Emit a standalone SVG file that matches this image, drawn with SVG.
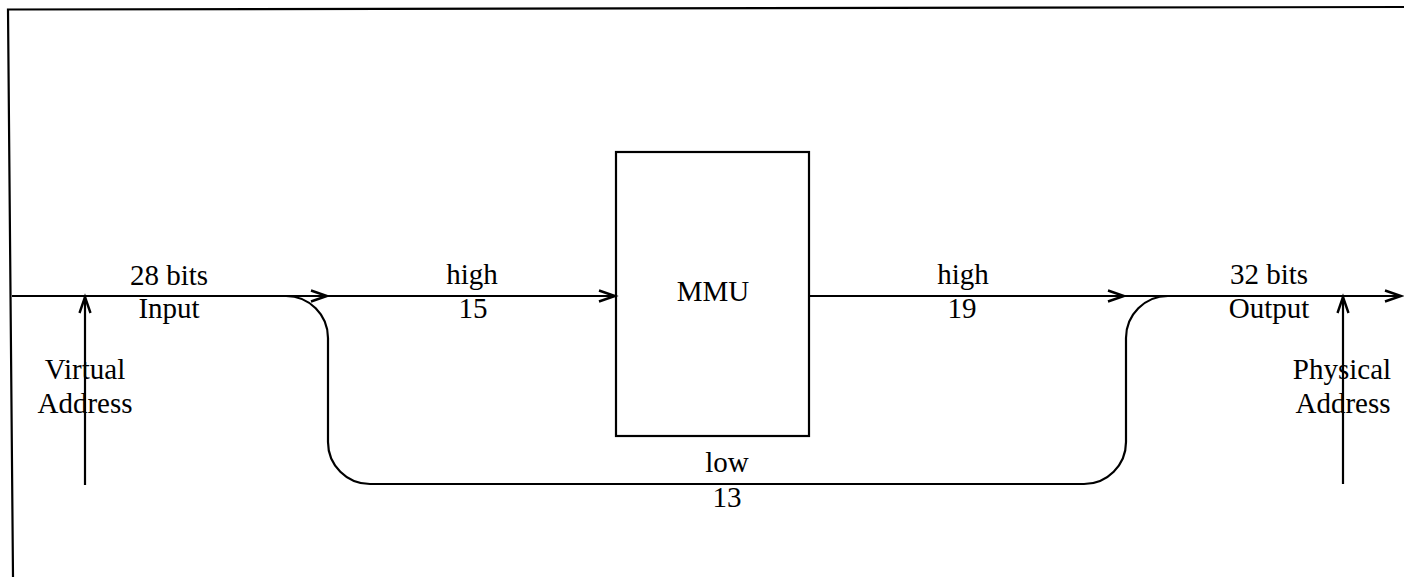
<svg xmlns="http://www.w3.org/2000/svg" width="1404" height="577" viewBox="0 0 1404 577">
<style>
.ln{stroke:#000;stroke-width:2.2;fill:none}
.t{font-family:"Liberation Serif","Times New Roman",serif;font-size:29px;fill:#000;text-anchor:middle}
</style>
<defs>
<marker id="ah" markerUnits="userSpaceOnUse" markerWidth="24" markerHeight="16" refX="18" refY="8" orient="auto" viewBox="0 0 24 16">
<path d="M2,2.5 L18,8 L2,13.5" stroke="#000" stroke-width="2.4" fill="none"/>
</marker>
</defs>
<rect width="1404" height="577" fill="#fff"/>
<polyline id="frame" class="ln" points="1404,7 8,9.5 13,577" stroke-width="2.6"/>
<g id="mmu">
<rect class="ln" x="616" y="152" width="193" height="284"/>
<text class="t" x="713" y="301">MMU</text>
</g>
<g id="input-label">
<text class="t" x="169" y="285">28 bits</text>
<text class="t" x="169" y="318">Input</text>
</g>
<g id="virtual-address">
<text class="t" x="85" y="379">Virtual</text>
<text class="t" x="85" y="413">Address</text>
</g>
<g id="output-label">
<text class="t" x="1269" y="284">32 bits</text>
<text class="t" x="1269" y="318">Output</text>
</g>
<g id="physical-address">
<text class="t" x="1342" y="379">Physical</text>
<text class="t" x="1343" y="413">Address</text>
</g>
<g id="connectors">
<line class="ln" x1="12" y1="296" x2="327" y2="296" marker-end="url(#ah)"/>
<line class="ln" x1="327" y1="296" x2="615" y2="296" marker-end="url(#ah)"/>
<line class="ln" x1="809" y1="296" x2="1124" y2="296" marker-end="url(#ah)"/>
<line class="ln" x1="1124" y1="296" x2="1401" y2="296" marker-end="url(#ah)"/>
<path class="ln" d="M286,296 A42,42 0 0 1 328,338 L328,442 A42,42 0 0 0 370,484 L1084,484 A42,42 0 0 0 1126,442 L1126,338 A42,42 0 0 1 1168,296"/>
<line class="ln" x1="85" y1="485" x2="85" y2="297" marker-end="url(#ah)"/>
<line class="ln" x1="1343" y1="484" x2="1343" y2="297" marker-end="url(#ah)"/>
<text class="t" x="472" y="284">high</text>
<text class="t" x="473" y="318">15</text>
<text class="t" x="963" y="284">high</text>
<text class="t" x="962" y="318">19</text>
<text class="t" x="727" y="472">low</text>
<text class="t" x="727" y="507">13</text>
</g>
</svg>
